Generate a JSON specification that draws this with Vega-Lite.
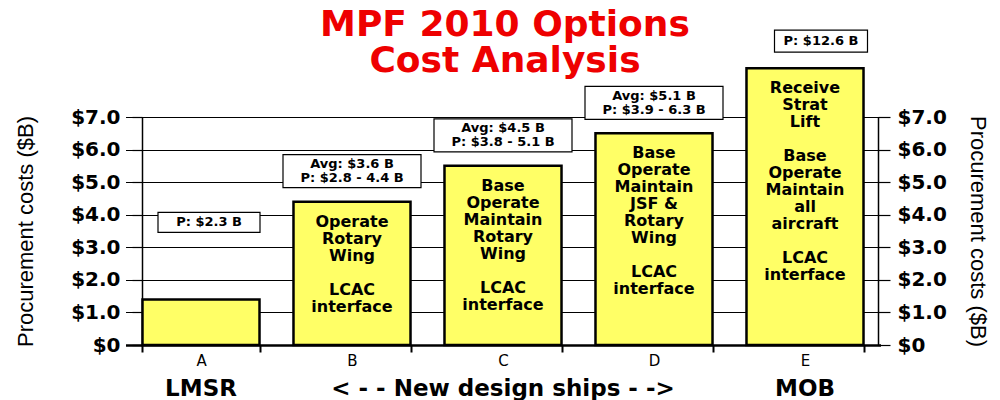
{
  "$schema": "https://vega.github.io/schema/vega-lite/v6.json",
  "width": 736,
  "height": 228,
  "autosize": {"type": "none"},
  "padding": {"left": 142, "top": 117, "right": 122, "bottom": 55},
  "background": "white",
  "config": {"view": {"stroke": null}},
  "title": {
    "text": ["MPF 2010 Options", "Cost Analysis"],
    "font": "DejaVu Sans",
    "fontSize": 36,
    "fontWeight": "bold",
    "color": "#ee0000",
    "lineHeight": 36,
    "anchor": "middle",
    "frame": "group",
    "offset": -50,
    "dx": -5
  },
  "data": {
    "values": [
      {"cat": "A", "value": 1.4, "desc": ["\u2800"], "note": ["P: $2.3  B"], "group": "LMSR"},
      {"cat": "B", "value": 4.4, "desc": ["Operate", "Rotary", "Wing", "\u2800", "LCAC", "interface"], "note": ["Avg: $3.6 B", "P: $2.8 -  4.4 B"], "group": ""},
      {"cat": "C", "value": 5.5, "desc": ["Base", "Operate", "Maintain", "Rotary", "Wing", "\u2800", "LCAC", "interface"], "note": ["Avg:  $4.5 B", "P: $3.8 - 5.1 B"], "group": "< - - New design ships - ->"},
      {"cat": "D", "value": 6.5, "desc": ["Base", "Operate", "Maintain", "JSF &", "Rotary", "Wing", "\u2800", "LCAC", "interface"], "note": ["Avg:  $5.1 B", "P: $3.9 - 6.3 B"], "group": ""},
      {"cat": "E", "value": 8.5, "desc": ["Receive", "Strat", "Lift", "\u2800", "Base", "Operate", "Maintain", "all", "aircraft", "\u2800", "LCAC", "interface"], "note": ["P: $12.6 B"], "group": "MOB"}
    ]
  },
  "encoding": {
    "x": {
      "field": "cat",
      "type": "nominal",
      "sort": null,
      "title": null,
      "scale": {"range": [-16.5, 738.5], "paddingInner": 0.225, "paddingOuter": 0.1125},
      "axis": {
        "labelAngle": 0,
        "labelFont": "DejaVu Sans",
        "labelFontSize": 15,
        "labelColor": "black",
        "labelPadding": 1,
        "domainColor": "black",
        "domainWidth": 2.5,
        "tickColor": "black",
        "tickWidth": 2,
        "tickSize": 7,
        "tickBand": "extent",
        "grid": false
      }
    }
  },
  "layer": [
    {
      "mark": {"type": "bar", "fill": "#ffff66", "stroke": "black", "strokeWidth": 2.5},
      "encoding": {
        "y": {
          "field": "value",
          "type": "quantitative",
          "scale": {"domain": [0, 7], "nice": false},
          "axis": {
            "orient": "left",
            "values": [0, 1, 2, 3, 4, 5, 6, 7],
            "labelExpr": "datum.value == 0 ? '$0' : '$' + format(datum.value, '.1f')",
            "labelFont": "DejaVu Sans",
            "labelFontWeight": "bold",
            "labelFontSize": 20,
            "labelColor": "black",
            "labelPadding": 12,
            "tickSize": 10,
            "tickColor": "black",
            "tickWidth": 1.2,
            "domainColor": "black",
            "domainWidth": 1.5,
            "grid": true,
            "gridColor": "black",
            "gridWidth": 1,
            "gridOpacity": 1,
            "title": "Procurement costs ($B)",
            "titleFont": "Liberation Sans",
            "titleFontSize": 22,
            "titleFontWeight": "normal",
            "titleColor": "black",
            "titleAngle": -90,
            "titleAlign": "center",
            "titleBaseline": "middle",
            "titleX": -117,
            "titleY": 114
          }
        }
      }
    },
    {
      "mark": {"type": "text", "font": "DejaVu Sans", "fontWeight": "bold", "fontSize": 16, "lineHeight": 17, "baseline": "top", "dy": 12, "color": "black"},
      "encoding": {
        "y": {"field": "value", "type": "quantitative", "scale": {"domain": [0, 7], "nice": false}, "axis": null},
        "text": {"field": "desc", "type": "nominal"}
      }
    },
    {
      "transform": [{"filter": "indexof(['B','C','D'], datum.cat) >= 0"}],
      "mark": {"type": "bar", "fill": "white", "stroke": "black", "strokeWidth": 1.2, "width": 138, "yOffset": -14, "y2Offset": -47},
      "encoding": {
        "y": {"field": "value", "type": "quantitative", "scale": {"domain": [0, 7], "nice": false}, "axis": null},
        "y2": {"field": "value"}
      }
    },
    {
      "transform": [{"filter": "datum.cat == 'A'"}],
      "mark": {"type": "bar", "fill": "white", "stroke": "black", "strokeWidth": 1.2, "width": 102, "xOffset": 8, "yOffset": -67, "y2Offset": -87},
      "encoding": {
        "y": {"field": "value", "type": "quantitative", "scale": {"domain": [0, 7], "nice": false}, "axis": null},
        "y2": {"field": "value"}
      }
    },
    {
      "transform": [{"filter": "datum.cat == 'E'"}],
      "mark": {"type": "bar", "fill": "white", "stroke": "black", "strokeWidth": 1.2, "width": 93, "xOffset": 16, "yOffset": -16, "y2Offset": -38},
      "encoding": {
        "y": {"field": "value", "type": "quantitative", "scale": {"domain": [0, 7], "nice": false}, "axis": null},
        "y2": {"field": "value"}
      }
    },
    {
      "transform": [{"filter": "indexof(['B','C','D'], datum.cat) >= 0"}],
      "mark": {"type": "text", "font": "DejaVu Sans", "fontWeight": "bold", "fontSize": 13, "lineHeight": 14, "baseline": "middle", "dy": -37.5, "color": "black"},
      "encoding": {
        "y": {
          "field": "value",
          "type": "quantitative",
          "scale": {"domain": [0, 7], "nice": false},
          "axis": {
            "orient": "right",
            "values": [0, 1, 2, 3, 4, 5, 6, 7],
            "labelExpr": "datum.value == 0 ? '$0' : '$' + format(datum.value, '.1f')",
            "labelFont": "DejaVu Sans",
            "labelFontWeight": "bold",
            "labelFontSize": 20,
            "labelColor": "black",
            "labelPadding": 7,
            "tickSize": 12,
            "tickColor": "black",
            "tickWidth": 1.2,
            "domainColor": "black",
            "domainWidth": 1.5,
            "grid": false,
            "title": "Procurement costs ($B)",
            "titleFont": "Liberation Sans",
            "titleFontSize": 22,
            "titleFontWeight": "normal",
            "titleColor": "black",
            "titleAngle": 90,
            "titleAlign": "center",
            "titleBaseline": "middle",
            "titleX": 99,
            "titleY": 114
          }
        },
        "text": {"field": "note", "type": "nominal"}
      }
    },
    {
      "transform": [{"filter": "datum.cat == 'A'"}],
      "mark": {"type": "text", "font": "DejaVu Sans", "fontWeight": "bold", "fontSize": 13, "baseline": "middle", "dx": 8, "dy": -77, "color": "black"},
      "encoding": {
        "y": {"field": "value", "type": "quantitative", "scale": {"domain": [0, 7], "nice": false}, "axis": null},
        "text": {"field": "note", "type": "nominal"}
      }
    },
    {
      "transform": [{"filter": "datum.cat == 'E'"}],
      "mark": {"type": "text", "font": "DejaVu Sans", "fontWeight": "bold", "fontSize": 13, "baseline": "middle", "dx": 16, "dy": -27, "color": "black"},
      "encoding": {
        "y": {"field": "value", "type": "quantitative", "scale": {"domain": [0, 7], "nice": false}, "axis": null},
        "text": {"field": "note", "type": "nominal"}
      }
    },
    {
      "transform": [{"filter": "datum.group != ''"}],
      "mark": {"type": "text", "font": "DejaVu Sans", "fontWeight": "bold", "fontSize": 23, "baseline": "middle", "dy": 44, "color": "black"},
      "encoding": {
        "y": {"datum": 0, "type": "quantitative", "scale": {"domain": [0, 7], "nice": false}, "axis": null},
        "text": {"field": "group", "type": "nominal"}
      }
    }
  ],
  "resolve": {"axis": {"y": "independent"}}
}
